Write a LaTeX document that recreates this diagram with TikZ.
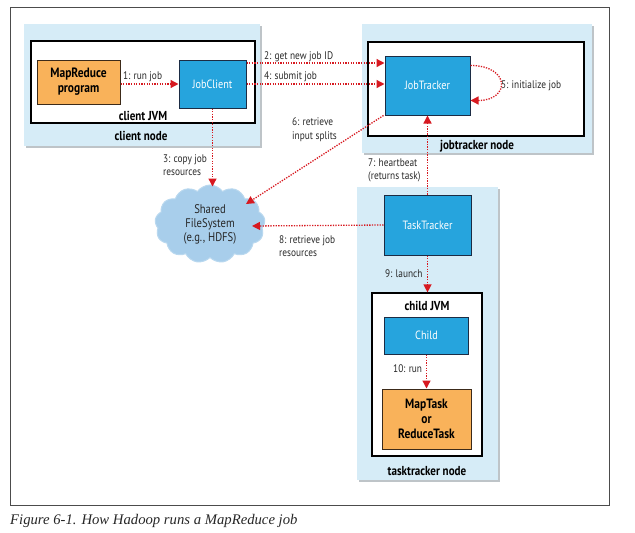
\documentclass[tikz,border=0pt]{standalone}
\usepackage{fontspec}
\setmainfont{Liberation Serif}
\newfontfamily\lab[FakeStretch=0.85]{PT Sans}
\usetikzlibrary{arrows.meta,shapes.symbols,calc}
\definecolor{nodebg}{RGB}{214,236,247}
\definecolor{shadowgray}{RGB}{190,196,200}
\definecolor{boxblue}{RGB}{38,164,221}
\definecolor{navy}{RGB}{28,44,68}
\definecolor{boxorange}{RGB}{249,178,90}
\definecolor{orangeborder}{RGB}{60,42,25}
\definecolor{arrred}{RGB}{215,25,32}
\definecolor{cloudblue}{RGB}{168,206,235}
\definecolor{lbltext}{RGB}{40,40,40}
\begin{document}
\begin{tikzpicture}[x=1pt,y=-1pt,
  bgarea/.style={fill=nodebg, draw=none},
  shadowarea/.style={fill=shadowgray, draw=none},
  jvm/.style={fill=white, draw=black, line width=1.2pt, inner sep=0, anchor=center},
  bluebox/.style={fill=boxblue, draw=navy, line width=1pt, text=white, font=\lab\fontsize{12}{14}\selectfont, inner sep=0, anchor=center},
  orangebox/.style={fill=boxorange, draw=orangeborder, line width=1pt, text=black, font=\lab\bfseries\fontsize{13.5}{15}\selectfont, inner sep=0, anchor=center, align=center},
  arr/.style={draw=arrred, line width=1.3pt, dash pattern=on 1.3pt off 1.3pt, -{Triangle[length=8pt,width=8pt,fill=arrred]}},
  lbl/.style={font=\lab\fontsize{11}{13.5}\selectfont, text=lbltext, inner sep=0, align=left},
  title/.style={font=\lab\bfseries\fontsize{13}{15}\selectfont, inner sep=0, text=black}
]
\useasboundingbox (0,0) rectangle (635,533);
% outer frame
\draw[draw=black!70, line width=1pt] (10,7) rectangle (609,505);

% client node
\fill[shadowarea] (26,26) rectangle (262,148);
\fill[bgarea] (24,24) rectangle (260,146);
\node[jvm, minimum width=224pt, minimum height=82pt] (cjvmc) at (143,82) {};
\node[title] (clientjvmlbl) at (143,116) {client JVM};
\node[title] (clientnodelbl) at (141,136) {client node};
\node[orangebox, minimum width=83pt, minimum height=44pt] (mr) at (78.5,82) {MapReduce\\program};
\node[bluebox, minimum width=67pt, minimum height=48pt] (jc) at (212.5,84) {JobClient};

% jobtracker node
\fill[shadowarea] (364,26) rectangle (594,155);
\fill[bgarea] (362,24) rectangle (592,153);
\node[jvm, minimum width=216pt, minimum height=94pt] (jtjvm) at (476,89) {};
\node[title] (jtnodelbl) at (477,146) {jobtracker node};
\node[bluebox, minimum width=85pt, minimum height=59pt] (jt) at (427.5,85.5) {JobTracker};

% tasktracker node
\fill[shadowarea] (359,189) rectangle (500,482);
\fill[bgarea] (357,187) rectangle (498,480);
\node[bluebox, minimum width=87pt, minimum height=60pt] (tt) at (427.5,225) {TaskTracker};
\node[jvm, minimum width=110pt, minimum height=163pt] (cjvm) at (427,374.5) {};
\node[title] (childjvmlbl) at (427,306) {child JVM};
\node[bluebox, minimum width=84pt, minimum height=37pt] (child) at (426.5,335.5) {Child};
\node[orangebox, minimum width=89pt, minimum height=60pt] (mt) at (426.5,419) {MapTask\\or\\ReduceTask};
\node[title] (ttnodelbl) at (427,471) {tasktracker node};

% shared filesystem cloud
\node[cloud, cloud puffs=13, cloud puff arc=110, aspect=1.45, fill=cloudblue, draw=cloudblue!80!white, line width=1pt,
      minimum width=110pt, minimum height=78pt, inner sep=0, align=center,
      font=\lab\fontsize{12.5}{14}\selectfont, text=black!85] (fs) at (210,224) {Shared\\FileSystem\\(e.g., HDFS)};

% arrows
\draw[arr] (mr.east |- jc.west) -- (jc.west);
\draw[arr] ([yshift=21pt]jc.east) -- ([yshift=21pt]jc.east -| jt.west);
\draw[arr] (jc.east) -- (jc.east -| jt.west);
\draw[arr] ([yshift=20pt]jt.east) .. controls +(40,0) and +(40,0) .. ([yshift=-15pt]jt.east);
\draw[arr] ([xshift=-1pt]jt.south west) -- ($(fs.center)+(36,-20)$);
\draw[arr] (jc.south) -- ($(jc.south |- fs.north)+(0,2)$);
\draw[arr] (tt.north) -- (tt.north |- jt.south);
\draw[arr] (tt.west) -- ($(fs.center)+(42,2)$);
\draw[arr] (tt.south) -- (tt.south |- cjvm.north);
\draw[arr] (child.south) -- (child.south |- mt.north);

% labels
\node[lbl, anchor=west] (l1) at (123,77) {1: run job};
\node[lbl, anchor=west] (l2) at (264,57) {2: get new job ID};
\node[lbl, anchor=west] (l4) at (264,77) {4: submit job};
\node[lbl, anchor=west] (l5) at (501,86) {5: initialize job};
\node[lbl, anchor=west] (l6) at (292,129.5) {6: retrieve\\input splits};
\node[lbl, anchor=west] (l3) at (163,165) {3: copy job\\resources};
\node[lbl, anchor=west] (l7) at (368,170.5) {7: heartbeat\\(returns task)};
\node[lbl, anchor=west] (l8) at (279,246) {8: retrieve job\\resources};
\node[lbl, anchor=west] (l9) at (385,274) {9: launch};
\node[lbl, anchor=west] (l10) at (393,369) {10: run};

% caption
\node[anchor=base west, inner sep=0, font=\itshape\fontsize{14.7}{16}\selectfont, text=black!85] (cap) at (10,524) {Figure 6-1. How Hadoop runs a MapReduce job};
\end{tikzpicture}
\end{document}
